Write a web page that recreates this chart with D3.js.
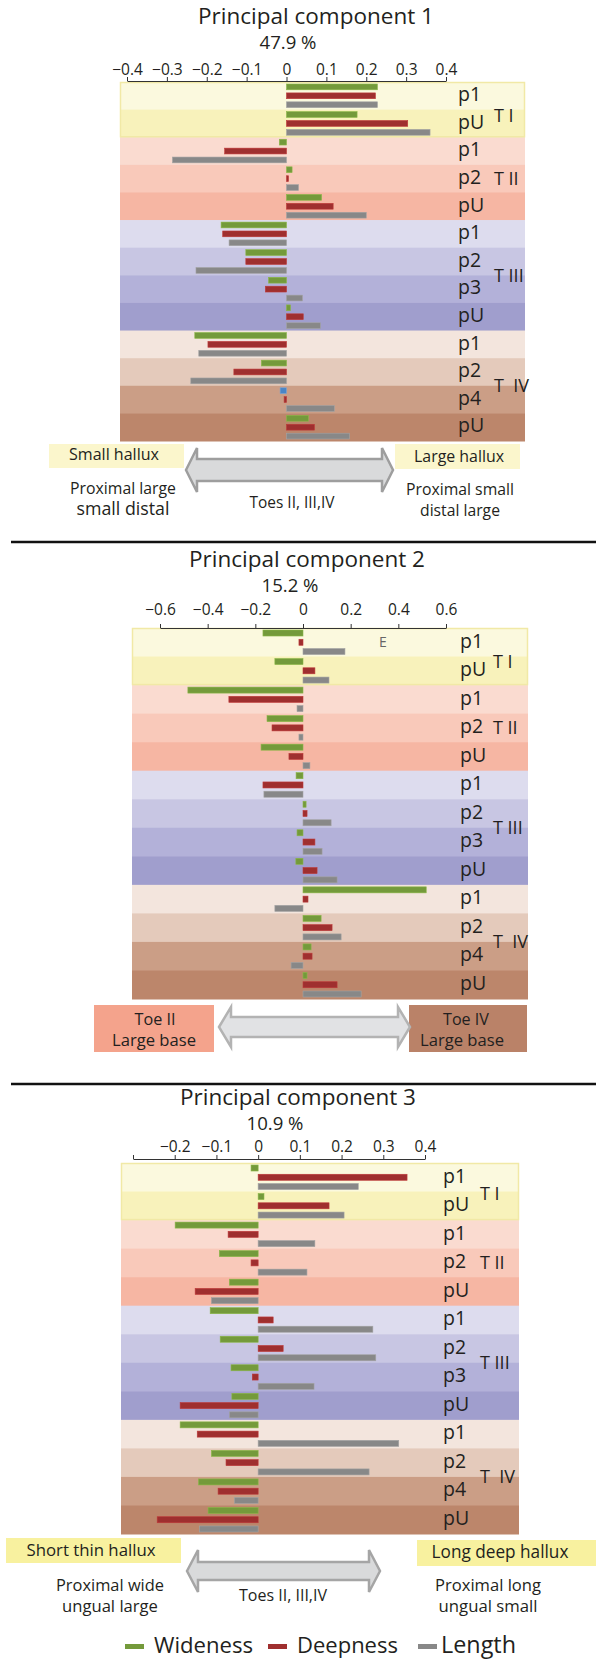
<!DOCTYPE html>
<html>
<head>
<meta charset="utf-8">
<script src="https://cdn.jsdelivr.net/npm/d3@7"></script>
<style>
  html, body { margin: 0; padding: 0; background: #fff; }
  svg { display: block; font-family: "Open Sans", "Noto Sans", sans-serif; }
</style>
</head>
<body>
<svg id="chart" width="596" height="1661"></svg>
<script>
// ---------------- DATA ----------------
const rowLabels = ["p1","pU","p1","p2","pU","p1","p2","p3","pU","p1","p2","p4","pU"];
const rowToes   = ["T I","T I","T II","T II","T II","T III","T III","T III","T III","T IV","T IV","T IV","T IV"];
const toeNames  = ["T I","T II","T III","T IV"];
const seriesNames = ["Wideness","Deepness","Length"];

const pcTitles   = ["Principal component 1","Principal component 2","Principal component 3"];
const pcVariance = ["47.9 %","15.2 %","10.9 %"];

const pc1Wideness = [0.228, 0.177, -0.018, 0.014, 0.088, -0.164, -0.102, -0.045, 0.010, -0.230, -0.063, -0.016, 0.055];
const pc1Deepness = [0.223, 0.304, -0.155, 0.005, 0.117, -0.160, -0.102, -0.053, 0.042, -0.197, -0.132, -0.006, 0.070];
const pc1Length   = [0.228, 0.360, -0.286, 0.030, 0.200, -0.144, -0.227, 0.040, 0.085, -0.220, -0.240, 0.120, 0.158];

const pc2Wideness = [-0.168, -0.118, -0.483, -0.151, -0.176, -0.029, 0.013, -0.025, -0.030, 0.517, 0.076, 0.034, 0.017];
const pc2Deepness = [-0.017, 0.050, -0.311, -0.130, -0.059, -0.168, 0.017, 0.050, 0.059, 0.021, 0.122, 0.038, 0.143];
const pc2Length   = [0.176, 0.109, -0.025, -0.017, 0.029, -0.164, 0.118, 0.080, 0.143, -0.118, 0.160, -0.050, 0.244];

const pc3Wideness = [-0.017, 0.014, -0.199, -0.093, -0.069, -0.115, -0.091, -0.065, -0.063, -0.187, -0.112, -0.143, -0.120];
const pc3Deepness = [0.357, 0.170, -0.072, -0.017, -0.151, 0.036, 0.060, -0.014, -0.187, -0.146, -0.077, -0.096, -0.242];
const pc3Length   = [0.240, 0.206, 0.136, 0.117, -0.112, 0.275, 0.282, 0.134, -0.069, 0.337, 0.266, -0.057, -0.141];

const pc1Ticks = [-0.4,-0.3,-0.2,-0.1,0,0.1,0.2,0.3,0.4];
const pc2Ticks = [-0.6,-0.4,-0.2,0,0.2,0.4,0.6];
const pc3Ticks = [-0.3,-0.2,-0.1,0,0.1,0.2,0.3,0.4];
const pc3TickLabels = ["","−0.2","−0.1","0","0.1","0.2","0.3","0.4"];

const pc1Notes = {left:"Small hallux", right:"Large hallux", leftSub:["Proximal large","small distal"], mid:"Toes II, III,IV", rightSub:["Proximal small","distal large"]};
const pc2Notes = {left:["Toe II","Large base"], right:["Toe IV","Large base"], extra:"E"};
const pc3Notes = {left:"Short thin hallux", right:"Long deep hallux", leftSub:["Proximal wide","ungual large"], mid:"Toes II, III,IV", rightSub:["Proximal long","ungual small"]};

// ---------------- STYLE / LAYOUT ----------------
const seriesColors = ["#749a3b", "#9f2f2f", "#888888"];
const bandColors = ["#fbf9de","#f8f2bb","#fadbd0","#f9c9ba","#f6b6a3","#dddcee","#c8c6e3","#b3b1d9","#a09ecd","#f3e5dd","#e4cabb","#cb9e86","#bc866b"];
const textColor = "#231f20";

function fitText(sel, target) {
  const n = sel.node();
  const w = n.getComputedTextLength();
  const fs = parseFloat(sel.style("font-size"));
  if (w > 0) sel.style("font-size", (fs * target / w).toFixed(2) + "px");
  return sel;
}

const panels = [
  { W: pc1Wideness, D: pc1Deepness, L: pc1Length, ticks: pc1Ticks, fmt: null,
    domain: [-0.4, 0.4], xRange: [127, 446], axisY: 81, tickPad: 2,
    titleX: 316, titleY: 24, pctX: 288, pctY: 49,
    bandX: [120, 525], bandY: [82, 441], labelX: 458, toeX: 494, toeOffset: [6,0,0,0],
    blue: 11 },
  { W: pc2Wideness, D: pc2Deepness, L: pc2Length, ticks: pc2Ticks, fmt: null,
    domain: [-0.6, 0.6], xRange: [160, 446], axisY: 628, tickPad: 9,
    titleX: 307, titleY: 567, pctX: 290, pctY: 592,
    bandX: [132, 528], bandY: [628, 999], labelX: 460, toeX: 493, toeOffset: [5,0,0,0],
    blue: -1 },
  { W: pc3Wideness, D: pc3Deepness, L: pc3Length, ticks: pc3Ticks, fmt: pc3TickLabels,
    domain: [-0.3, 0.4], xRange: [133, 425], axisY: 1159, tickPad: 3,
    titleX: 298, titleY: 1104.5, pctX: 275, pctY: 1129.5,
    bandX: [121, 519], bandY: [1163, 1534], labelX: 443, toeX: 480, toeOffset: [2,0,0,0],
    blue: -1 }
];

const svg = d3.select("#chart");
const minusFmt = d3.format("");

panels.forEach((p, pi) => {
  const g = svg.append("g");
  const x = d3.scaleLinear().domain(p.domain).range(p.xRange);
  const y = d3.scaleBand().domain(d3.range(rowLabels.length)).range(p.bandY).paddingInner(0).paddingOuter(0);
  const inner = d3.scaleBand().domain(seriesNames).range([2, y.bandwidth() - 2]).paddingInner(0.35);

  g.selectAll("rect.band").data(rowLabels).join("rect")
    .attr("class","band")
    .attr("x", p.bandX[0]).attr("width", p.bandX[1] - p.bandX[0])
    .attr("y", (d,i) => y(i)).attr("height", y.bandwidth() + 0.5)
    .attr("fill", (d,i) => bandColors[i]);

  g.append("rect")
    .attr("x", p.bandX[0] + 0.5).attr("width", p.bandX[1] - p.bandX[0] - 1)
    .attr("y", y(0) + 0.5).attr("height", y.bandwidth()*2 - 1)
    .attr("fill","none").attr("stroke","#f1e9a6").attr("stroke-width",1.5);

  const series = [p.W, p.D, p.L];
  series.forEach((vals, si) => {
    g.selectAll("rect.s" + si).data(vals).join("rect")
      .attr("class","s" + si)
      .attr("x", d => Math.min(x(0), x(d)))
      .attr("width", d => Math.max(1.5, Math.abs(x(d) - x(0))))
      .attr("y", (d,i) => y(i) + inner(seriesNames[si]))
      .attr("height", inner.bandwidth())
      .attr("fill", (d,i) => (si === 0 && i === p.blue) ? "#4a85c6" : seriesColors[si])
      .attr("stroke", (d,i) => (si === 0 && i === p.blue) ? "#7aa6d8" : d3.color(seriesColors[si]).brighter(0.5))
      .attr("stroke-width", 0.6);
  });

  const axis = d3.axisTop(x).tickValues(p.ticks).tickSizeInner(4).tickSizeOuter(0).tickPadding(p.tickPad)
    .tickFormat((d,i) => p.fmt ? p.fmt[i] : minusFmt(d));
  const ax = g.append("g").attr("transform", `translate(0,${p.axisY})`).call(axis);
  ax.select(".domain").attr("stroke", "#333").attr("stroke-width", 1.2);
  ax.selectAll(".tick line").attr("stroke", "#333").attr("stroke-width", 1);
  ax.selectAll(".tick text").attr("fill", textColor).style("font-size", "15.5px")
    .style("font-family", '"Open Sans", sans-serif');

  const t = g.append("text").attr("x", p.titleX).attr("y", p.titleY).attr("text-anchor","middle")
    .attr("fill", textColor).style("font-size","21px").text(pcTitles[pi]);
  fitText(t, 236);
  const pc = g.append("text").attr("x", p.pctX).attr("y", p.pctY).attr("text-anchor","middle")
    .attr("fill", textColor).style("font-size","17px").text(pcVariance[pi]);
  fitText(pc, 57);

  g.selectAll("text.row").data(rowLabels).join("text")
    .attr("class","row")
    .attr("x", p.labelX).attr("y", (d,i) => y(i) + y.bandwidth()/2)
    .attr("dy","0.27em").attr("fill", textColor).style("font-size","19.5px")
    .text(d => d);

  toeNames.forEach((tn, ti) => {
    const idx = rowToes.map((r,i)=> r === tn ? i : -1).filter(i => i >= 0);
    const mid = (y(idx[0]) + y(idx[idx.length-1]) + y.bandwidth()) / 2;
    g.append("text").attr("x", p.toeX).attr("y", mid + p.toeOffset[ti]).attr("dy","0.36em")
      .attr("fill", textColor).style("font-size","18px")
      .attr("xml:space","preserve")
      .text(tn === "T IV" ? "T  IV" : tn);
  });
});

// ---------- annotations ----------
function arrow(x0, x1, top, bot, sTop, sBot, hw, fill, stroke) {
  const cy = (top + bot) / 2;
  const path = d3.path();
  path.moveTo(x0, cy);
  path.lineTo(x0 + hw, top);
  path.lineTo(x0 + hw, sTop);
  path.lineTo(x1 - hw, sTop);
  path.lineTo(x1 - hw, top);
  path.lineTo(x1, cy);
  path.lineTo(x1 - hw, bot);
  path.lineTo(x1 - hw, sBot);
  path.lineTo(x0 + hw, sBot);
  path.lineTo(x0 + hw, bot);
  path.closePath();
  svg.append("path").attr("d", path.toString()).attr("fill", fill)
    .attr("stroke", stroke).attr("stroke-width", 2.5).attr("stroke-linejoin","miter");
}
function box(x0, y0, w, h, fill) {
  svg.append("rect").attr("x", x0).attr("y", y0).attr("width", w).attr("height", h).attr("fill", fill);
}
function label(txt, xc, yb, size, target) {
  const s = svg.append("text").attr("x", xc).attr("y", yb).attr("text-anchor", "middle")
    .attr("fill", textColor).style("font-size", size + "px").text(txt);
  if (target) fitText(s, target);
  return s;
}

// PC1 bottom
box(49, 444, 135, 24, "#fbf6cc");
label(pc1Notes.left, 114, 460, 16, 90);
box(395, 444, 125, 25, "#fbf6cc");
label(pc1Notes.right, 459, 462, 16, 90);
arrow(186, 393, 448, 492, 459, 481, 11, "#d9dadb", "#9e9e9e");
label(pc1Notes.leftSub[0], 123, 494, 16, 106);
label(pc1Notes.leftSub[1], 123, 515, 16, 93);
label(pc1Notes.mid, 292, 508, 15, 85);
label(pc1Notes.rightSub[0], 460, 495, 16, 108);
label(pc1Notes.rightSub[1], 460, 516, 16, 80);

svg.append("line").attr("x1", 11).attr("x2", 596).attr("y1", 542).attr("y2", 542)
  .attr("stroke", "#111").attr("stroke-width", 2.6);

// PC2 bottom
box(94, 1005, 120, 47, "#f4a38c");
label(pc2Notes.left[0], 155, 1025, 16, 41);
label(pc2Notes.left[1], 154, 1046, 16, 84);
box(409, 1005, 118, 47, "#ba8268");
label(pc2Notes.right[0], 466, 1025, 16, 46);
label(pc2Notes.right[1], 462, 1046, 16, 84);
arrow(219, 410, 1007, 1047, 1017, 1037, 12, "#e1e2e4", "#b3b3b3");
svg.append("text").attr("x", 383).attr("y", 647).attr("text-anchor","middle")
  .attr("fill", "#666").style("font-size","14px").text(pc2Notes.extra);

svg.append("line").attr("x1", 11).attr("x2", 596).attr("y1", 1084).attr("y2", 1084)
  .attr("stroke", "#111").attr("stroke-width", 2.6);

// PC3 bottom
box(6, 1538, 175, 25, "#f8f19f");
label(pc3Notes.left, 91, 1556, 16, 129);
box(417, 1540, 179, 26, "#f8f19f");
label(pc3Notes.right, 500, 1558, 16, 137);
arrow(187, 380, 1550, 1592, 1562, 1580, 11, "#d9dadb", "#a5a5a5");
label(pc3Notes.leftSub[0], 110, 1591, 16, 108);
label(pc3Notes.leftSub[1], 110, 1612, 16, 96);
label(pc3Notes.mid, 283, 1601, 15, 88);
label(pc3Notes.rightSub[0], 488, 1591, 16, 106);
label(pc3Notes.rightSub[1], 488, 1612, 16, 99);

// legend
const legendX = [125, 268, 418];
const legendTextX = [154, 297, 441];
const legendW = [99, 101, 75];
seriesNames.forEach((s, i) => {
  svg.append("rect").attr("x", legendX[i]).attr("y", 1644).attr("width", 19).attr("height", 5)
    .attr("fill", seriesColors[i]);
  const t = svg.append("text").attr("x", legendTextX[i]).attr("y", 1653).attr("fill", textColor)
    .style("font-size", "21px").text(s);
  fitText(t, legendW[i]);
});
</script>
</body>
</html>
